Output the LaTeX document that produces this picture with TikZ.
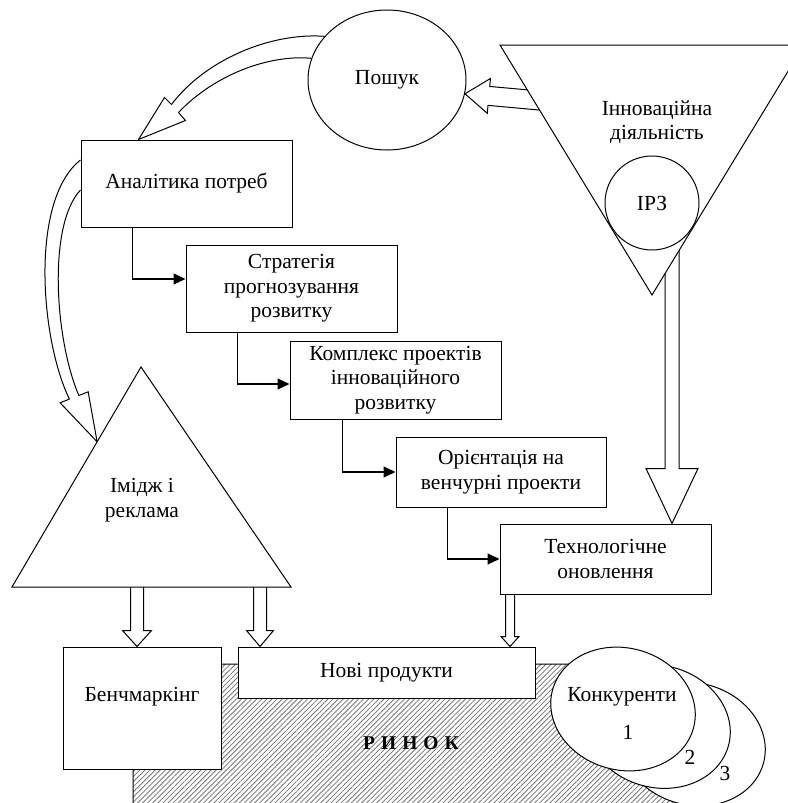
\documentclass[tikz,border=0pt]{standalone}
\usepackage{fontspec}
\setmainfont{Liberation Serif}
\usetikzlibrary{arrows.meta,calc,shapes.geometric,patterns.meta,backgrounds}

\tikzset{
  txt/.style={font=\fontsize{21.5}{24.5}\selectfont, align=center, inner sep=0pt},
  box/.style={txt, draw, fill=white, line width=1pt},
  blob/.style={txt, ellipse, draw, fill=white, line width=1pt},
  thinline/.style={line width=1pt},
  flow/.style={line width=1.1pt, -{Triangle[length=12pt,width=11pt]}},
}

% hollow block arrow: start, tip, shaft half width, head half width, head length
\newcommand{\hollowarrow}[5]{%
  \path (#1) coordinate (ha-s) (#2) coordinate (ha-t);
  \path ($(ha-t)!#5!(ha-s)$) coordinate (ha-b);
  \draw[thinline] ($(ha-s)!#3!90:(ha-t)$) -- ($(ha-b)!#3!90:(ha-t)$)
    -- ($(ha-b)!#4!90:(ha-t)$) -- (ha-t) -- ($(ha-b)!#4!-90:(ha-t)$)
    -- ($(ha-b)!#3!-90:(ha-t)$) -- ($(ha-s)!#3!-90:(ha-t)$);
}

\begin{document}
\begin{tikzpicture}[x=1pt,y=-1pt]
  \useasboundingbox (0,0) rectangle (787,803);

  % market
  \draw[thinline, pattern={Lines[angle=45,distance=3.6pt,line width=0.8pt]}, pattern color=black!55]
    (133,664) -- (600,664) -- (705,815) -- (133,815) -- cycle;

  \node[blob, minimum width=158pt, minimum height=140pt] (poshuk) at (387,80) {Пошук};

  % innovation triangle
  \coordinate (innovL) at (500,45);
  \coordinate (innovR) at (804,45);
  \coordinate (innovB) at (652,295);
  \draw[thinline, fill=white] (innovL) -- (innovR) -- (innovB) -- cycle;
  \node[txt] (innovtxt) at (657,122) {Інноваційна\\діяльність};
  \node[blob, circle, minimum size=94pt] (ipz) at (652,203) {ІРЗ};

  % image triangle
  \coordinate (imT) at (141,367);
  \coordinate (imL) at (12,587);
  \coordinate (imR) at (291,587);
  \draw[thinline, fill=white] (imT) -- (imL) -- (imR) -- cycle;
  \node[txt] (imtxt) at (142,500) {Імідж і\\реклама};

  \node[box, minimum width=211pt, minimum height=87pt] (analit) at (186.5,183.5) {Аналітика потреб};
  \node[box, minimum width=211pt, minimum height=87pt] (strat) at (291.5,288.5) {Стратегія\\прогнозування\\розвитку};
  \node[box, minimum width=211pt, minimum height=78pt] (kompl) at (395.5,380) {Комплекс проектів\\інноваційного\\розвитку};
  \node[box, minimum width=210pt, minimum height=70pt] (orient) at (501,472) {Орієнтація на\\венчурні проекти};
  \node[box, minimum width=211pt, minimum height=70pt] (tech) at (605.5,559) {Технологічне\\оновлення};
  \node[box, minimum width=158pt, minimum height=122pt, text depth=27pt] (bench) at (142,708) {Бенчмаркінг};
  \node[box, minimum width=297pt, minimum height=51pt] (nove) at (386.5,672.5) {Нові продукти};

  % competitors
  \foreach \i/\dx in {3/70, 2/35, 1/0}
    \node[blob, minimum width=146pt, minimum height=122pt, rotate=-15] (konk\i) at (623+\dx,709+\dx/2) {};
  \node[txt] (konktxt) at (622,697) {Конкуренти};
  \node[txt] (konk1txt) at (628,732) {1};
  \node[txt] (konk2txt) at (690,757) {2};
  \node[txt] (konk3txt) at (725,773) {3};

  \node[txt, font=\fontsize{19.5}{22}\selectfont\bfseries] (rynok) at (411,743)
    {Р\hspace{6pt}И\hspace{6pt}Н\hspace{6pt}О\hspace{6pt}К};

  \begin{scope}[on background layer]
    % chain of steps
    \draw[flow] ([xshift=52pt]analit.south west) |- ([yshift=9.5pt]strat.west);
    \draw[flow] ([xshift=52pt]strat.south west) |- ([yshift=-4pt]kompl.west);
    \draw[flow] ([xshift=53pt]kompl.south west) |- (orient.west);
    \draw[flow] ([xshift=52pt]orient.south west) |- (tech.west);

    % block arrows
    \coordinate (benchIn) at ([xshift=-5pt]bench.north);
    \coordinate (noveInA) at ([xshift=22.5pt]nove.north west);
    \coordinate (noveInB) at ([xshift=-25.5pt]nove.north east);
    \coordinate (techIn) at ([xshift=66.5pt]tech.north);
    \hollowarrow{benchIn |- imL}{benchIn}{6.5pt}{14.5pt}{16pt}
    \hollowarrow{noveInA |- imL}{noveInA}{6.5pt}{13.5pt}{16pt}
    \hollowarrow{noveInB |- tech.south}{noveInB}{4.5pt}{9pt}{10pt}
    \hollowarrow{techIn |- ipz.center}{techIn}{7pt}{26pt}{55pt}
    \hollowarrow{$(innovL)!0.25!(innovB)+(40,-3.5)$}{poshuk.-10}{9.5pt}{17.5pt}{24pt}

    % search -> analytics
    \coordinate (anTip) at ([xshift=58pt]analit.north west);
    \draw[thinline] (poshuk.145) .. controls +(-55,-4) and +(33,-44) .. ($(anTip)+(33,-35)$);
    \draw[thinline] (poshuk.164) .. controls +(-42,-4) and +(36,-38) .. ($(anTip)+(40,-27)$);
    \draw[thinline] ($(anTip)+(33,-35)$) -- ($(anTip)+(26,-42)$) -- (anTip)
      -- ($(anTip)+(47,-19)$) -- ($(anTip)+(40,-27)$);

    % analytics -> image
    \coordinate (imTip) at ($(imT)!0.34!(imL)$);
    \draw[thinline] ([yshift=23.5pt]analit.west) .. controls +(-51,40) and +(-29,-59) .. ($(imTip)+(-27.7,-42.7)$);
    \draw[thinline] ([yshift=-6.5pt]analit.west) .. controls +(-33,35) and +(-24,-56) .. ($(imTip)+(-18.3,-46.3)$);
    \draw[thinline] ($(imTip)+(-27.7,-42.7)$) -- ($(imTip)+(-37,-39)$) -- (imTip)
      -- ($(imTip)+(-9,-50)$) -- ($(imTip)+(-18.3,-46.3)$);
  \end{scope}
\end{tikzpicture}
\end{document}
